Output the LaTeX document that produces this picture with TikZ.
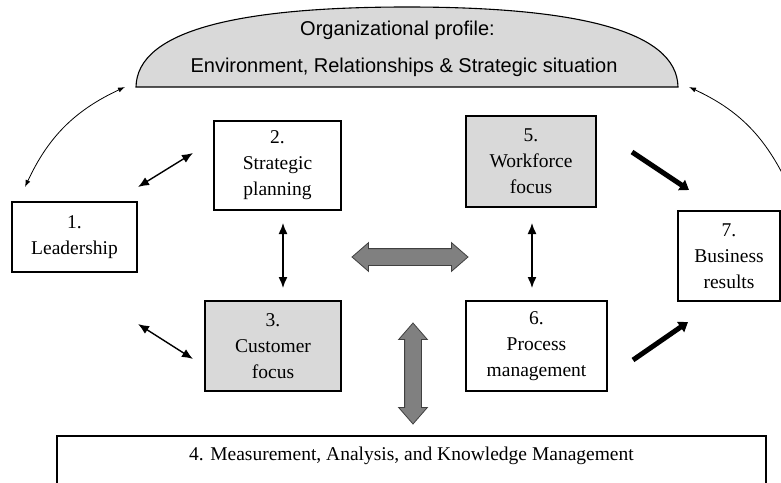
\documentclass[tikz,border=0pt]{standalone}
\usepackage{fontspec}
\setmainfont{Liberation Serif}
\newfontfamily\profilefont{Liberation Sans}
\usetikzlibrary{arrows.meta,shapes.arrows}

\definecolor{boxgray}{RGB}{217,217,217}
\definecolor{arrowgray}{RGB}{128,128,128}

\tikzset{
  box/.style={draw, line width=1.6pt, inner sep=0pt, align=center,
    font=\fontsize{19.5}{26}\selectfont},
  link/.style={line width=1.4pt,
    {Latex[length=11pt,width=9pt]}-{Latex[length=11pt,width=9pt]}},
  bigarrow/.style={line width=5pt, -{Triangle[length=9pt,width=12pt]}},
  curve/.style={line width=0.8pt},
  blockarrow/.style={double arrow, draw=black!75, fill=arrowgray,
    line width=0.8pt, inner sep=8pt, double arrow head extend=6pt,
    double arrow tip angle=82}
}

\begin{document}
\begin{tikzpicture}[x=1pt,y=-1pt]
\useasboundingbox (0,0) rectangle (781,482);

% organizational profile
\draw[line width=1.1pt, fill=boxgray] (136,87)
  .. controls (137,30) and (240,7) .. (407,7)
  .. controls (574,7) and (677,30) .. (678,87) -- cycle;
\node[anchor=base, font=\profilefont\fontsize{20}{24}\selectfont] (prof1) at (397.5,35) {Organizational profile:};
\node[anchor=base, font=\profilefont\fontsize{20}{24}\selectfont] (prof2) at (404,72) {Environment, Relationships \& Strategic situation};

% categories
\node[box, minimum width=125pt, minimum height=70pt] (lead) at (74.5,237) {1.\\Leadership};
\node[box, minimum width=127pt, minimum height=89pt] (strat) at (277.5,165.5) {2.\\Strategic\\planning};
\node[box, fill=boxgray, minimum width=136pt, minimum height=90pt] (cust) at (273,346) {3.\\Customer\\focus};
\node[box, fill=boxgray, minimum width=130pt, minimum height=91pt] (work) at (531,161.5) {5.\\Workforce\\focus};
\node[box, minimum width=141pt, minimum height=90pt] (proc) at (536.5,346) {6.\\Process\\management};
\node[box, minimum width=102pt, minimum height=90pt] (res) at (729,256) {7.\\Business\\results};
\node[box, anchor=north, minimum width=709pt, inner ysep=6pt, text height=18.5pt, text depth=60pt] (meas) at (411.5,435) {4. Measurement, Analysis, and Knowledge Management};

% links
\coordinate (ls1) at (138,187);
\coordinate (ls2) at (193,153);
\coordinate (lc1) at (138,324);
\coordinate (lc2) at (193,359);
\coordinate (sc1) at (283,223);
\coordinate (sc2) at (283,288);
\coordinate (wp1) at (532,223);
\coordinate (wp2) at (532,288);
\draw[link] (ls1) -- (ls2);
\draw[link] (lc1) -- (lc2);
\draw[link] (sc1) -- (sc2);
\draw[link] (wp1) -- (wp2);

\node[blockarrow, minimum height=116pt] (hflow) at (410,257) {};
\node[blockarrow, minimum height=101pt, rotate=90] (vflow) at (413,373.5) {};

\coordinate (wr1) at (632,152);
\coordinate (wr2) at (689,190);
\coordinate (pr1) at (633,360);
\coordinate (pr2) at (688,322);
\draw[bigarrow] (wr1) -- (wr2);
\draw[bigarrow] (pr1) -- (pr2);

% feedback to the profile
\coordinate (cl1) at (25,187);
\coordinate (cl2) at (125,87);
\coordinate (cr1) at (789,187);
\coordinate (cr2) at (689,87);
\draw[curve, {Latex[length=7pt,width=5pt]}-{Latex[length=7pt,width=5pt]}] (cl1) to[bend left=20] (cl2);
\draw[curve, -{Latex[length=7pt,width=5pt]}] (cr1) to[bend right=20] (cr2);
\end{tikzpicture}
\end{document}
